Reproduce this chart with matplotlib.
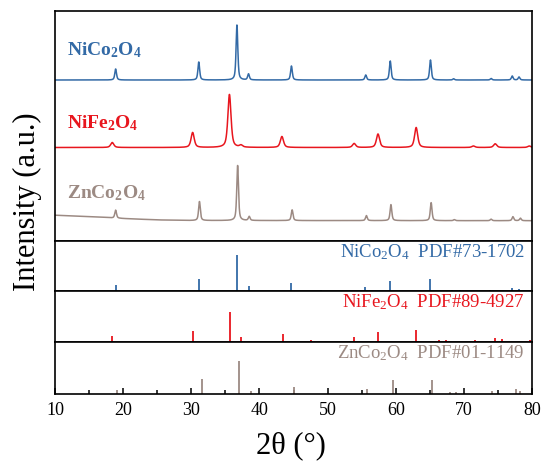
import numpy as np
import matplotlib
matplotlib.use("Agg")
import matplotlib.pyplot as plt

plt.rcParams["font.family"] = ["Liberation Serif", "DejaVu Serif"]
plt.rcParams["mathtext.fontset"] = "custom"
plt.rcParams["mathtext.rm"] = "Liberation Serif"
plt.rcParams["mathtext.it"] = "Liberation Serif:italic"
plt.rcParams["mathtext.bf"] = "Liberation Serif:bold"

# ---- measured XRD peaks (2theta, height in a.u.) ----
nco_pos = [18.9, 31.1, 36.7, 38.4, 44.7, 55.6, 59.2, 65.1, 68.5, 74.0, 77.1, 78.1]
nco_int = [11, 18, 55, 6, 14, 5, 19, 20, 1.2, 1.5, 4, 3]

nfo_pos = [18.4, 30.2, 35.6, 37.3, 43.3, 53.9, 57.4, 63.0, 71.4, 74.6, 79.6]
nfo_int = [5, 15, 53, 2, 11, 4, 13.5, 20, 1.5, 3.7, 1.5]

zco_pos = [18.9, 31.2, 36.8, 38.5, 44.8, 55.7, 59.3, 65.2, 68.6, 74.0, 77.2, 78.3]
zco_int = [8, 19, 55, 4, 10.7, 5, 16, 18, 1.0, 1.5, 4, 2.5]

# low-angle background of the ZnCo2O4 pattern
zco_bg_x = [10, 15, 20, 25, 30, 80]
zco_bg_y = [5.5, 4.0, 2.2, 0.8, 0.2, 0.0]

# ---- standard reference cards (2theta, relative intensity %) ----
ref_nco_pos = [18.9, 31.1, 36.7, 38.4, 44.7, 49.0, 55.5, 59.2, 65.0, 68.3, 69.4, 73.8, 77.1, 78.1]
ref_nco_int = [17, 33, 100, 13, 23, 3, 10, 28, 33, 4, 4, 4, 9, 6]

ref_nfo_pos = [18.4, 30.3, 35.7, 37.3, 43.4, 47.6, 53.9, 57.4, 63.0, 66.3, 67.4, 71.6, 74.6, 75.6, 79.7]
ref_nfo_int = [19, 37, 100, 17, 28, 7, 17, 33, 39, 8, 7, 7, 13, 10, 8]

ref_zco_pos = [19.1, 31.5, 37.0, 38.8, 45.1, 55.8, 59.6, 65.3, 67.9, 68.9, 74.1, 77.6, 78.2]
ref_zco_int = [12, 44, 100, 9, 22, 14, 42, 42, 6, 6, 9, 16, 9]

labels = ["NiCo$_\\mathbf{2}$O$_\\mathbf{4}$",
          "NiFe$_\\mathbf{2}$O$_\\mathbf{4}$",
          "ZnCo$_\\mathbf{2}$O$_\\mathbf{4}$"]
ref_labels = ["NiCo$_2$O$_4$  PDF#73-1702",
              "NiFe$_2$O$_4$  PDF#89-4927",
              "ZnCo$_2$O$_4$  PDF#01-1149"]

c_blue = "#336aa6"
c_red = "#e8161e"
c_brown = "#9c8a83"


def profile(x, pos, amp, fwhm, eta=0.6):
    """Pseudo-Voigt sum for a list of reflections."""
    y = np.zeros_like(x)
    g = fwhm / 2.3548
    for p, a in zip(pos, amp):
        lor = 1.0 / (1.0 + ((x - p) / (fwhm / 2)) ** 2)
        gau = np.exp(-0.5 * ((x - p) / g) ** 2)
        y += a * (eta * lor + (1 - eta) * gau)
    return y


x = np.linspace(10, 80, 4000)
y_nco = profile(x, nco_pos, nco_int, 0.3)
y_nfo = profile(x, nfo_pos, nfo_int, 0.55)
y_zco = profile(x, zco_pos, zco_int, 0.3) + np.interp(x, zco_bg_x, zco_bg_y)

fig = plt.figure(figsize=(5.44, 4.73), dpi=100)
L, W = 55 / 544, 477 / 544
H = 473.0


def add_ax(top_px, bot_px):
    return fig.add_axes([L, 1 - bot_px / H, W, (bot_px - top_px) / H])


ax0 = add_ax(11, 241)
ax1 = add_ax(241, 291)
ax2 = add_ax(291, 342)
ax3 = add_ax(342, 394)

spine_lw = 1.2
for ax in (ax0, ax1, ax2, ax3):
    ax.set_xlim(10, 80)
    ax.set_yticks([])
    for s in ax.spines.values():
        s.set_linewidth(spine_lw)
    ax.tick_params(axis="x", which="both", bottom=False, labelbottom=False)

# measured patterns, stacked
ax0.set_ylim(0, 230)
ax0.plot(x, y_nco + 161, color=c_blue, lw=1.1)
ax0.plot(x, y_nfo + 93.5, color=c_red, lw=1.1)
ax0.plot(x, y_zco + 20.3, color=c_brown, lw=1.1)
ax0.text(11.8, 191, labels[0], color=c_blue, fontsize=14, fontweight="bold", va="center")
ax0.text(11.8, 118, labels[1], color=c_red, fontsize=14, fontweight="bold", va="center")
ax0.text(11.8, 48, labels[2], color=c_brown, fontsize=14, fontweight="bold", va="center")

# reference stick patterns
for ax, pos, inten, col, lab, top in [
    (ax1, ref_nco_pos, ref_nco_int, c_blue, ref_labels[0], 137),
    (ax2, ref_nfo_pos, ref_nfo_int, c_red, ref_labels[1], 170),
    (ax3, ref_zco_pos, ref_zco_int, c_brown, ref_labels[2], 156),
]:
    ax.set_ylim(0, top)
    ax.vlines(pos, 0, inten, color=col, lw=1.3)
    ax.text(0.985, 0.78, lab, transform=ax.transAxes, color=col, fontsize=13.5,
            ha="right", va="center")

ax3.set_xticks(np.arange(10, 81, 10))
ax3.set_xticks(np.arange(15, 80, 10), minor=True)
ax3.tick_params(axis="x", which="major", bottom=True, labelbottom=True,
                direction="in", length=4, width=1.1, labelsize=13, pad=6)
ax3.tick_params(axis="x", which="minor", bottom=True, direction="in", length=3, width=1.1)

fig.text(0.5 * (L + L + W) - 0.005, 1 - 446 / H, "2θ (°)", fontsize=22, ha="center", va="center")
fig.text(27 / 544, 1 - 202 / H, "Intensity (a.u.)", fontsize=22, rotation=90,
         ha="center", va="center")

fig.savefig("out.png", dpi=100)
